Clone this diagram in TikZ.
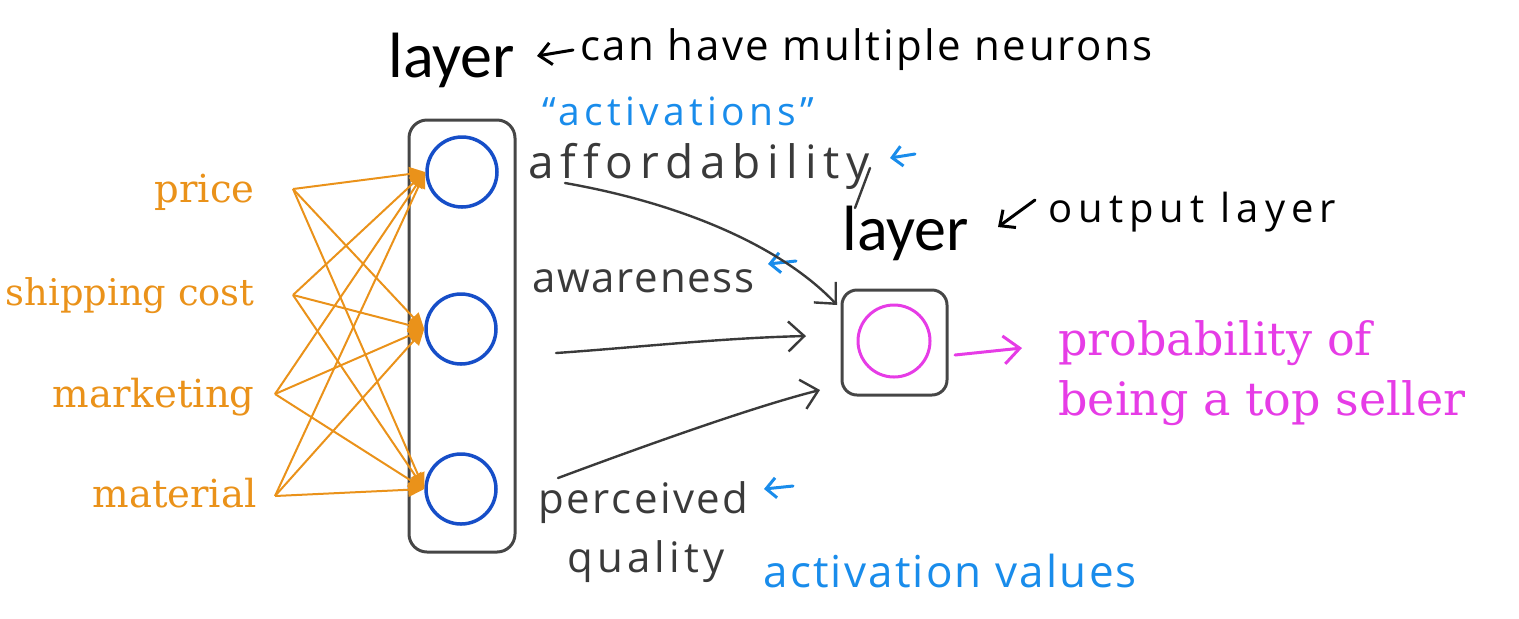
\documentclass[tikz,border=0pt]{standalone}
\usepackage{fontspec}
\usetikzlibrary{arrows.meta}
\newfontfamily\layerfont{Carlito}
\newfontfamily\handfont[Ligatures=NoCommon]{Open Sans}
\newfontfamily\serifcs{DejaVu Serif}
\definecolor{inorange}{RGB}{234,146,26}
\definecolor{neuronblue}{RGB}{22,78,200}
\definecolor{outpink}{RGB}{230,60,230}
\definecolor{handblue}{RGB}{25,140,235}
\definecolor{boxgray}{RGB}{70,70,70}
\definecolor{handgray}{RGB}{58,58,58}
\newcommand\hw[3]{{\handfont\fontsize{#1}{#1}\selectfont\addfontfeature{LetterSpace=#2}#3}}
\begin{document}
\begin{tikzpicture}[x=0.5pt,y=-0.5pt,
  neuron/.style={circle, draw=neuronblue, line width=1.75pt, minimum size=35pt, inner sep=0pt},
  outneuron/.style={circle, draw=outpink, line width=1.5pt, minimum size=36pt, inner sep=0pt},
  layerbox/.style={draw=boxgray, line width=1.5pt, rounded corners=9pt, inner sep=0pt},
  intext/.style={text=inorange, font=\serifcs\fontsize{19.3}{22}\selectfont, anchor=base east, inner sep=0pt},
  pinktext/.style={text=outpink, font=\serifcs\fontsize{23}{26}\selectfont, anchor=base west, inner sep=0pt},
  layerlabel/.style={font=\layerfont\fontsize{32}{34}\selectfont, anchor=base west, inner sep=0pt},
  hand/.style={anchor=base west, inner sep=0pt},
  inarrow/.style={draw=inorange, line width=1pt, -{Triangle[length=8pt,width=7pt]}},
  sketch/.style={draw=handgray, line width=1.2pt, line cap=round, line join=round, -{Straight Barb[length=8pt,width=15pt,line width=1.2pt]}},
  blackarrow/.style={draw=black, line width=1.5pt, line cap=round, line join=round, -{Straight Barb[length=6pt,width=11pt,line width=1.5pt]}},
  bluearrow/.style={draw=handblue, line width=1.5pt, line cap=round, line join=round, -{Straight Barb[length=5pt,width=10pt,line width=1.5pt]}},
  pinkarrow/.style={draw=outpink, line width=1.5pt, line cap=round, line join=round, -{Straight Barb[length=8pt,width=14pt,line width=1.5pt]}}
]
\useasboundingbox (0,0) rectangle (1519,618);

% hidden layer
\node[layerbox, minimum width=53pt, minimum height=216pt] (hbox) at (462,336) {};
\node[neuron] (h1) at (462,172) {};
\node[neuron] (h2) at (461,329) {};
\node[neuron] (h3) at (461,489) {};

% inputs
\node[intext] (price) at (255,202) {price};
\node[intext, font=\serifcs\fontsize{18.4}{22}\selectfont] (ship) at (255,305) {shipping cost};
\node[intext] (mkt) at (255,407) {marketing};
\node[intext] (mat) at (257,507) {material};
\coordinate (sP) at (293,189);
\coordinate (sS) at (293,295);
\coordinate (sM) at (275,394);
\coordinate (sT) at (275,496);
\foreach \s in {sP,sS,sM,sT}
  \foreach \h in {h1,h2,h3}
    \draw[inarrow] (\s) -- (\h.west);

% output layer
\node[layerbox, rounded corners=7.5pt, minimum width=52.5pt, minimum height=52.5pt] (obox) at (894.5,342.5) {};
\node[outneuron] (o1) at (894,341) {};
\coordinate (pA) at (955,355);
\coordinate (pB) at (1022,348);
\draw[pinkarrow] (pA) -- (pB);
\node[pinktext] (prob1) at (1058,355) {probability of};
\node[pinktext] (prob2) at (1058,415) {being a top seller};

% layer labels
\node[layerlabel] (lay1) at (388,77) {layer};
\node[layerlabel] (lay2) at (842,250) {layer};

% top annotation
\coordinate (ta1) at (573,50);
\coordinate (ta2) at (537,56);
\draw[blackarrow] (ta1) -- (ta2);
\node[hand] (multi) at (580,60) {\hw{21}{6}{can have multiple neurons}};

% output annotation
\coordinate (oa1) at (1035,200);
\coordinate (oa2) at (998,227);
\draw[blackarrow] (oa1) -- (oa2);
\node[hand] (outl) at (1048,222) {\hw{20}{15}{output layer}};

% activations
\node[hand, text=handblue] (acts) at (542,125) {\hw{19.5}{11}{“activations”}};
\node[hand, text=handgray] (afford) at (528,178) {\hw{23}{15}{affordability}};
\node[hand, text=handgray] (aware) at (532,292) {\hw{21}{4}{awareness}};
\node[hand, text=handgray] (perc) at (538,513) {\hw{21}{6}{perceived}};
\node[hand, text=handgray] (qual) at (567,572) {\hw{21}{10}{quality}};
\node[hand, text=handblue] (actv) at (763,587) {\hw{22}{5}{activation values}};

% y tail
\coordinate (yt1) at (870,168);
\coordinate (yt2) at (855,208);
\draw[handgray, line width=1.2pt, line cap=round] (yt1) -- (yt2);

% blue small arrows
\coordinate (b1a) at (915,154);
\coordinate (b1b) at (890,158);
\draw[bluearrow] (b1a) -- (b1b);
\coordinate (b2a) at (796,261);
\coordinate (b2b) at (768,264);
\draw[bluearrow] (b2a) -- (b2b);
\coordinate (b3a) at (793,486);
\coordinate (b3b) at (764,489);
\draw[bluearrow] (b3a) -- (b3b);

% gray sketch arrows to output
\coordinate (g1s) at (565,183);
\coordinate (g1e) at (837,305);
\draw[sketch] (g1s) .. controls (690,205) and (785,250) .. (g1e);
\coordinate (g2s) at (556,353);
\coordinate (g2e) at (806,336);
\draw[sketch] (g2s) .. controls (630,348) and (720,338) .. (g2e);
\coordinate (g3s) at (558,478);
\coordinate (g3e) at (820,390);
\draw[sketch] (g3s) .. controls (660,440) and (760,405) .. (g3e);
\end{tikzpicture}
\end{document}
